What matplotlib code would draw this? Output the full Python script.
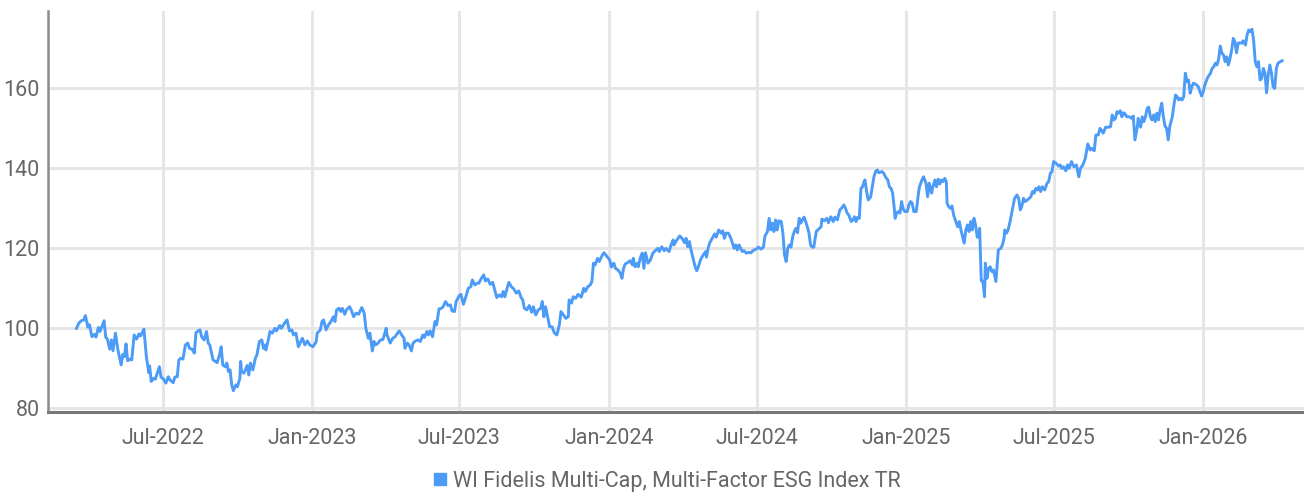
import matplotlib
matplotlib.use("Agg")
import matplotlib.pyplot as plt
import matplotlib.dates as mdates
from matplotlib.lines import Line2D
import pandas as pd

SERIES_NAME = "WI Fidelis Multi-Cap, Multi-Factor ESG Index TR"

pts_2022 = [("03-17", 99.9), ("03-20", 101.2), ("03-23", 101.8), ("03-26", 102.0), ("03-28", 103.1),
            ("03-31", 100.2), ("04-02", 100.8), ("04-05", 97.8), ("04-08", 98.4), ("04-10", 97.7),
            ("04-13", 100.1), ("04-15", 99.1), ("04-20", 101.8), ("04-22", 97.7), ("04-24", 97.2),
            ("04-27", 94.7), ("04-29", 97.0), ("05-01", 94.3), ("05-04", 98.7), ("05-07", 94.5),
            ("05-11", 90.75), ("05-13", 93.4), ("05-15", 92.8), ("05-17", 96.0), ("05-19", 91.8),
            ("05-22", 92.2), ("05-24", 92.0), ("05-27", 98.25), ("05-30", 97.2), ("06-02", 98.5),
            ("06-04", 98.0), ("06-08", 99.7), ("06-11", 92.8), ("06-14", 88.8), ("06-15", 90.5),
            ("06-17", 86.6), ("06-20", 87.4), ("06-22", 87.2), ("06-25", 89.1), ("06-27", 90.3),
            ("06-29", 87.7), ("07-02", 87.2), ("07-05", 86.2), ("07-08", 87.8), ("07-10", 87.0),
            ("07-14", 86.3), ("07-16", 87.7), ("07-19", 87.8), ("07-21", 92.0), ("07-23", 92.4),
            ("07-26", 92.2), ("07-29", 95.75), ("08-01", 96.2), ("08-03", 94.9), ("08-06", 94.7),
            ("08-09", 93.7), ("08-11", 98.8), ("08-14", 99.3), ("08-16", 99.5), ("08-18", 97.8),
            ("08-21", 97.0), ("08-24", 99.1), ("08-26", 96.2), ("08-28", 95.75), ("09-01", 92.0),
            ("09-04", 91.6), ("09-06", 91.3), ("09-09", 93.25), ("09-11", 95.3), ("09-13", 90.75),
            ("09-16", 90.3), ("09-18", 91.2), ("09-20", 89.1), ("09-22", 89.5), ("09-24", 85.75),
            ("09-26", 84.3), ("09-29", 85.75), ("10-01", 85.3), ("10-04", 87.4), ("10-05", 91.6),
            ("10-06", 89.1), ("10-09", 88.7), ("10-13", 90.6), ("10-15", 88.25), ("10-17", 91.2),
            ("10-20", 89.5), ("10-23", 92.4), ("10-25", 93.25), ("10-28", 96.6), ("10-31", 97.0),
            ("11-02", 94.9), ("11-04", 95.75), ("11-05", 94.5), ("11-08", 97.0), ("11-10", 99.1),
            ("11-13", 98.7), ("11-16", 99.9), ("11-18", 99.25), ("11-22", 100.6), ("11-24", 99.9),
            ("11-27", 100.9), ("12-01", 102.0), ("12-04", 99.25), ("12-07", 99.5), ("12-09", 98.25),
            ("12-12", 98.7), ("12-15", 95.3), ("12-18", 96.6), ("12-20", 97.4), ("12-23", 95.75),
            ("12-26", 96.75), ("12-29", 95.75)]

pts_2023 = [("01-02", 95.3), ("01-06", 96.6), ("01-07", 98.7), ("01-11", 99.5), ("01-13", 101.6),
            ("01-15", 102.0), ("01-18", 99.5), ("01-21", 100.75), ("01-24", 101.6), ("01-27", 102.8),
            ("01-29", 101.6), ("01-31", 104.5), ("02-03", 104.9), ("02-05", 104.1), ("02-07", 104.9),
            ("02-10", 103.4), ("02-12", 104.5), ("02-16", 105.3), ("02-18", 104.5), ("02-21", 102.8),
            ("02-24", 103.7), ("02-27", 103.4), ("03-03", 105.1), ("03-06", 103.7), ("03-08", 99.9),
            ("03-11", 97.4), ("03-13", 98.7), ("03-16", 94.25), ("03-18", 96.6), ("03-20", 95.75),
            ("03-23", 96.2), ("03-26", 97.0), ("03-29", 97.1), ("04-02", 99.9), ("04-03", 98.25),
            ("04-07", 96.2), ("04-10", 97.4), ("04-13", 97.8), ("04-16", 98.7), ("04-18", 99.25),
            ("04-21", 98.25), ("04-24", 97.4), ("04-25", 94.9), ("04-28", 96.2), ("04-30", 95.8),
            ("05-03", 94.25), ("05-05", 96.2), ("05-08", 96.75), ("05-11", 97.0), ("05-14", 96.6),
            ("05-17", 98.25), ("05-19", 97.6), ("05-22", 99.1), ("05-24", 98.25), ("05-26", 99.25),
            ("05-29", 97.8), ("06-01", 101.6), ("06-03", 100.75), ("06-06", 104.75), ("06-09", 104.9),
            ("06-11", 105.3), ("06-14", 106.6), ("06-17", 105.6), ("06-20", 105.75), ("06-22", 104.25),
            ("06-25", 104.1), ("06-27", 106.6), ("07-01", 108.1), ("07-03", 108.4), ("07-06", 105.9),
            ("07-09", 107.8), ("07-12", 109.9), ("07-15", 110.3), ("07-17", 112.0), ("07-20", 110.75),
            ("07-23", 111.2), ("07-25", 111.2), ("07-28", 112.4), ("07-31", 113.25), ("08-02", 111.75),
            ("08-05", 112.25), ("08-08", 110.9), ("08-11", 111.4), ("08-13", 109.9), ("08-16", 107.6),
            ("08-19", 108.25), ("08-22", 107.8), ("08-24", 109.1), ("08-26", 107.8), ("08-29", 110.1),
            ("08-31", 111.4), ("09-03", 110.3), ("09-06", 109.75), ("09-09", 108.7), ("09-12", 109.25),
            ("09-15", 107.6), ("09-17", 107.0), ("09-19", 104.9), ("09-22", 104.5), ("09-25", 105.6),
            ("09-28", 103.9), ("09-30", 105.3), ("10-03", 103.25), ("10-06", 104.5), ("10-09", 104.9),
            ("10-11", 106.6), ("10-13", 102.8), ("10-15", 105.3), ("10-18", 102.4), ("10-20", 100.3),
            ("10-23", 100.3), ("10-26", 98.7), ("10-29", 98.25), ("11-01", 100.75), ("11-03", 104.1),
            ("11-06", 103.25), ("11-09", 102.4), ("11-12", 102.8), ("11-13", 107.0), ("11-16", 106.2),
            ("11-18", 107.8), ("11-21", 107.4), ("11-24", 108.4), ("11-28", 107.7), ("12-01", 109.9),
            ("12-03", 109.1), ("12-06", 110.3), ("12-09", 110.75), ("12-11", 111.6), ("12-13", 116.2),
            ("12-15", 115.75), ("12-18", 117.4), ("12-20", 116.6), ("12-24", 118.25), ("12-26", 118.8),
            ("12-29", 118.0)]

pts_2024 = [("01-02", 117.0), ("01-04", 115.2), ("01-07", 116.2), ("01-09", 114.9), ("01-12", 114.5),
            ("01-15", 113.7), ("01-17", 112.4), ("01-19", 114.9), ("01-21", 116.0), ("01-24", 116.3),
            ("01-27", 116.8), ("01-30", 115.75), ("01-31", 117.4), ("02-02", 115.3), ("02-05", 116.2),
            ("02-06", 115.3), ("02-09", 117.8), ("02-11", 118.7), ("02-13", 114.9), ("02-15", 118.8),
            ("02-18", 116.2), ("02-21", 117.0), ("02-24", 118.7), ("02-26", 119.1), ("03-01", 119.9),
            ("03-03", 119.1), ("03-06", 120.3), ("03-09", 119.3), ("03-11", 119.9), ("03-15", 119.1),
            ("03-17", 120.5), ("03-20", 122.0), ("03-21", 120.75), ("03-24", 121.8), ("03-28", 123.0),
            ("03-31", 122.4), ("04-03", 121.3), ("04-05", 122.4), ("04-07", 120.3), ("04-09", 121.6),
            ("04-11", 119.5), ("04-14", 117.0), ("04-16", 115.3), ("04-18", 114.3), ("04-20", 115.3),
            ("04-23", 117.2), ("04-26", 118.25), ("04-29", 119.1), ("04-30", 117.7), ("05-02", 119.9),
            ("05-04", 121.3), ("05-07", 122.4), ("05-10", 123.5), ("05-12", 122.7), ("05-15", 124.5),
            ("05-18", 123.7), ("05-20", 124.3), ("05-22", 122.4), ("05-24", 123.7), ("05-27", 123.7),
            ("05-30", 122.4), ("06-01", 121.2), ("06-03", 119.9), ("06-05", 120.75), ("06-07", 119.5),
            ("06-09", 120.75), ("06-13", 119.1), ("06-15", 119.3), ("06-18", 118.7), ("06-21", 118.9),
            ("06-24", 118.8), ("06-26", 119.3), ("06-30", 119.7), ("07-03", 120.2), ("07-06", 119.7),
            ("07-09", 120.2), ("07-11", 123.0), ("07-14", 124.1), ("07-16", 127.4), ("07-18", 124.5),
            ("07-20", 126.2), ("07-22", 124.1), ("07-24", 127.0), ("07-26", 124.5), ("07-28", 126.8),
            ("07-31", 126.6), ("08-02", 123.7), ("08-04", 118.25), ("08-06", 116.6), ("08-08", 119.9),
            ("08-10", 120.75), ("08-12", 120.2), ("08-14", 122.8), ("08-16", 124.1), ("08-18", 124.9),
            ("08-20", 123.8), ("08-22", 127.4), ("08-24", 126.2), ("08-26", 127.0), ("08-28", 127.7),
            ("08-30", 126.6), ("09-01", 125.3), ("09-03", 123.8), ("09-05", 120.75), ("09-07", 120.2),
            ("09-09", 120.2), ("09-12", 124.1), ("09-15", 124.7), ("09-18", 125.3), ("09-19", 127.2),
            ("09-22", 126.8), ("09-25", 127.4), ("09-27", 126.3), ("09-30", 127.8), ("10-03", 126.6),
            ("10-05", 127.7), ("10-08", 127.0), ("10-11", 129.5), ("10-13", 129.9), ("10-16", 130.75),
            ("10-18", 129.9), ("10-20", 128.7), ("10-22", 128.25), ("10-25", 126.6), ("10-27", 127.0),
            ("10-29", 127.8), ("10-31", 126.6), ("11-02", 127.7), ("11-04", 127.4), ("11-06", 134.9),
            ("11-08", 135.3), ("11-10", 136.6), ("11-11", 137.0), ("11-13", 134.1), ("11-15", 132.0),
            ("11-18", 132.8), ("11-20", 135.3), ("11-22", 137.8), ("11-24", 139.1), ("11-26", 139.5),
            ("11-28", 138.8), ("12-02", 139.1), ("12-04", 138.7), ("12-06", 137.8), ("12-09", 137.0),
            ("12-11", 135.3), ("12-13", 134.9), ("12-15", 133.7), ("12-17", 129.9), ("12-18", 127.4),
            ("12-20", 128.8), ("12-22", 129.1), ("12-24", 128.7), ("12-26", 131.6), ("12-28", 129.7),
            ("12-30", 129.1)]

pts_2025 = [("01-02", 129.1), ("01-04", 130.75), ("01-06", 131.6), ("01-08", 131.2), ("01-10", 129.1),
            ("01-13", 129.1), ("01-16", 134.1), ("01-17", 135.3), ("01-20", 137.0), ("01-22", 137.8),
            ("01-25", 136.2), ("01-27", 132.8), ("01-29", 136.2), ("02-01", 133.7), ("02-02", 134.9),
            ("02-05", 137.0), ("02-07", 135.3), ("02-09", 137.2), ("02-11", 136.0), ("02-13", 137.0),
            ("02-15", 136.6), ("02-17", 137.4), ("02-19", 136.6), ("02-20", 131.2), ("02-22", 130.3),
            ("02-24", 129.9), ("02-26", 130.5), ("02-28", 128.25), ("03-02", 127.0), ("03-05", 125.3),
            ("03-07", 126.6), ("03-09", 124.5), ("03-11", 122.8), ("03-13", 121.2), ("03-15", 124.5),
            ("03-17", 125.75), ("03-19", 124.1), ("03-21", 126.6), ("03-23", 124.5), ("03-25", 127.4),
            ("03-27", 125.75), ("03-29", 122.7), ("03-31", 122.8), ("04-01", 124.9), ("04-03", 111.8),
            ("04-05", 111.7), ("04-07", 107.8), ("04-08", 116.2), ("04-10", 112.4), ("04-12", 114.9),
            ("04-14", 115.3), ("04-16", 114.1), ("04-18", 114.5), ("04-21", 111.6), ("04-23", 117.0),
            ("04-24", 119.5), ("04-27", 119.9), ("04-29", 120.75), ("05-01", 122.4), ("05-02", 124.5),
            ("05-04", 123.7), ("05-06", 124.5), ("05-08", 126.2), ("05-10", 128.25), ("05-12", 130.3),
            ("05-14", 132.4), ("05-17", 133.25), ("05-19", 132.4), ("05-21", 129.5), ("05-23", 130.5),
            ("05-25", 132.4), ("05-27", 131.6), ("05-31", 132.2), ("06-03", 132.8), ("06-05", 134.1),
            ("06-07", 133.7), ("06-09", 134.9), ("06-11", 134.5), ("06-13", 135.3), ("06-15", 134.1),
            ("06-17", 135.3), ("06-20", 134.5), ("06-23", 136.2), ("06-25", 136.6), ("06-27", 138.7),
            ("06-29", 139.1), ("07-01", 141.6), ("07-04", 141.2), ("07-07", 140.5), ("07-09", 140.75),
            ("07-11", 139.9), ("07-13", 140.3), ("07-16", 139.3), ("07-18", 140.75), ("07-20", 139.9),
            ("07-23", 141.6), ("07-26", 140.3), ("07-29", 140.75), ("08-01", 137.8), ("08-03", 139.9),
            ("08-06", 140.75), ("08-09", 142.4), ("08-12", 146.0), ("08-15", 144.5), ("08-17", 144.9),
            ("08-20", 144.3), ("08-22", 148.25), ("08-25", 148.25), ("08-27", 149.9), ("08-30", 149.1),
            ("08-31", 148.7), ("09-03", 150.2), ("09-07", 150.2), ("09-09", 150.3), ("09-11", 153.25),
            ("09-13", 152.0), ("09-15", 152.4), ("09-17", 154.1), ("09-19", 153.7), ("09-21", 154.3),
            ("09-23", 152.8), ("09-25", 153.8), ("09-27", 153.5), ("09-29", 152.8), ("10-02", 152.8),
            ("10-05", 152.4), ("10-07", 153.0), ("10-09", 147.0), ("10-12", 150.3), ("10-13", 152.4),
            ("10-16", 150.2), ("10-18", 152.8), ("10-20", 151.6), ("10-22", 152.8), ("10-24", 154.9),
            ("10-26", 155.2), ("10-28", 152.8), ("10-30", 152.0), ("11-01", 153.25), ("11-03", 151.6),
            ("11-05", 153.7), ("11-07", 152.0), ("11-09", 154.5), ("11-11", 156.2), ("11-13", 152.8),
            ("11-15", 150.5), ("11-17", 149.9), ("11-19", 147.0), ("11-21", 150.5), ("11-24", 152.8),
            ("11-26", 155.75), ("11-28", 158.25), ("11-30", 157.8), ("12-02", 157.0), ("12-04", 157.4),
            ("12-06", 157.0), ("12-08", 157.8), ("12-10", 163.7), ("12-12", 161.6), ("12-14", 162.0),
            ("12-16", 158.7), ("12-18", 160.3), ("12-20", 161.2), ("12-22", 161.0), ("12-24", 160.75),
            ("12-26", 160.3), ("12-28", 159.1), ("12-30", 158.0)]

pts_2026 = [("01-01", 159.1), ("01-03", 160.75), ("01-06", 162.4), ("01-07", 162.8), ("01-10", 163.7),
            ("01-12", 164.9), ("01-14", 165.3), ("01-16", 166.2), ("01-18", 165.75), ("01-20", 167.2),
            ("01-22", 170.5), ("01-24", 168.7), ("01-26", 168.25), ("01-28", 166.6), ("01-30", 167.8),
            ("02-01", 165.75), ("02-03", 167.4), ("02-05", 169.5), ("02-07", 172.4), ("02-09", 171.6),
            ("02-11", 168.8), ("02-13", 171.2), ("02-15", 171.3), ("02-18", 171.2), ("02-19", 171.8),
            ("02-22", 170.75), ("02-24", 173.25), ("02-26", 174.5), ("02-28", 174.1), ("03-02", 174.7),
            ("03-04", 172.0), ("03-06", 166.6), ("03-08", 165.3), ("03-10", 166.6), ("03-12", 162.0),
            ("03-14", 162.4), ("03-16", 164.9), ("03-18", 163.7), ("03-20", 158.8), ("03-22", 163.25),
            ("03-24", 165.75), ("03-26", 163.7), ("03-28", 160.3), ("03-30", 159.9), ("04-01", 164.9),
            ("04-03", 166.2), ("04-06", 166.6), ("04-08", 166.8)]

yticks = [80, 100, 120, 140, 160]
xtick_dates = ["2022-07-01", "2023-01-01", "2023-07-01", "2024-01-01", "2024-07-01",
               "2025-01-01", "2025-07-01", "2026-01-01"]

years = {2022: pts_2022, 2023: pts_2023, 2024: pts_2024, 2025: pts_2025, 2026: pts_2026}
dates, values = [], []
for yr, pts in years.items():
    for md, v in pts:
        dates.append(f"{yr}-{md}")
        values.append(v)
dates = pd.to_datetime(dates)

plt.rcParams['font.family'] = ['Roboto', 'DejaVu Sans']
plt.rcParams['font.weight'] = 'normal'

LINE = "#4C9BF7"
TEXT = "#666666"
GRID = "#e6e6e6"
FS = 15.5

fig = plt.figure(figsize=(13.04, 4.96), dpi=100)
ax = fig.add_axes([48/1304, 1 - 411.5/496, 1 - 48/1304, (411.5 - 11)/496])

ax.plot(dates, values, color=LINE, lw=2.1, solid_joinstyle='round', zorder=3)

ax.set_xlim(pd.Timestamp("2022-02-10"), pd.Timestamp("2026-05-05"))
ax.set_ylim(79.1, 179.25)
ax.set_yticks(yticks)
ax.set_xticks(pd.to_datetime(xtick_dates))
ax.xaxis.set_major_formatter(mdates.DateFormatter("%b-%Y"))

ax.grid(True, color=GRID, lw=2.2, zorder=0)
ax.set_axisbelow(True)
for s in ["top", "right"]:
    ax.spines[s].set_visible(False)
ax.spines["left"].set_color("#8a8a8a")
ax.spines["left"].set_linewidth(1.8)
ax.spines["bottom"].set_color("#777777")
ax.spines["bottom"].set_linewidth(2.2)
ax.tick_params(axis="both", length=0, labelsize=FS, colors=TEXT)
ax.tick_params(axis="y", pad=6)
ax.tick_params(axis="x", pad=12)

handle = Line2D([], [], marker="s", linestyle="none", markersize=8.5,
                markerfacecolor=LINE, markeredgecolor=LINE)
fig.legend([handle], [SERIES_NAME], loc="center", bbox_to_anchor=(666/1304, 1 - 481/496),
           frameon=False, fontsize=FS, labelcolor=TEXT, handletextpad=0.2,
           handlelength=0.8, borderaxespad=0)

fig.savefig("out.png", dpi=100)
